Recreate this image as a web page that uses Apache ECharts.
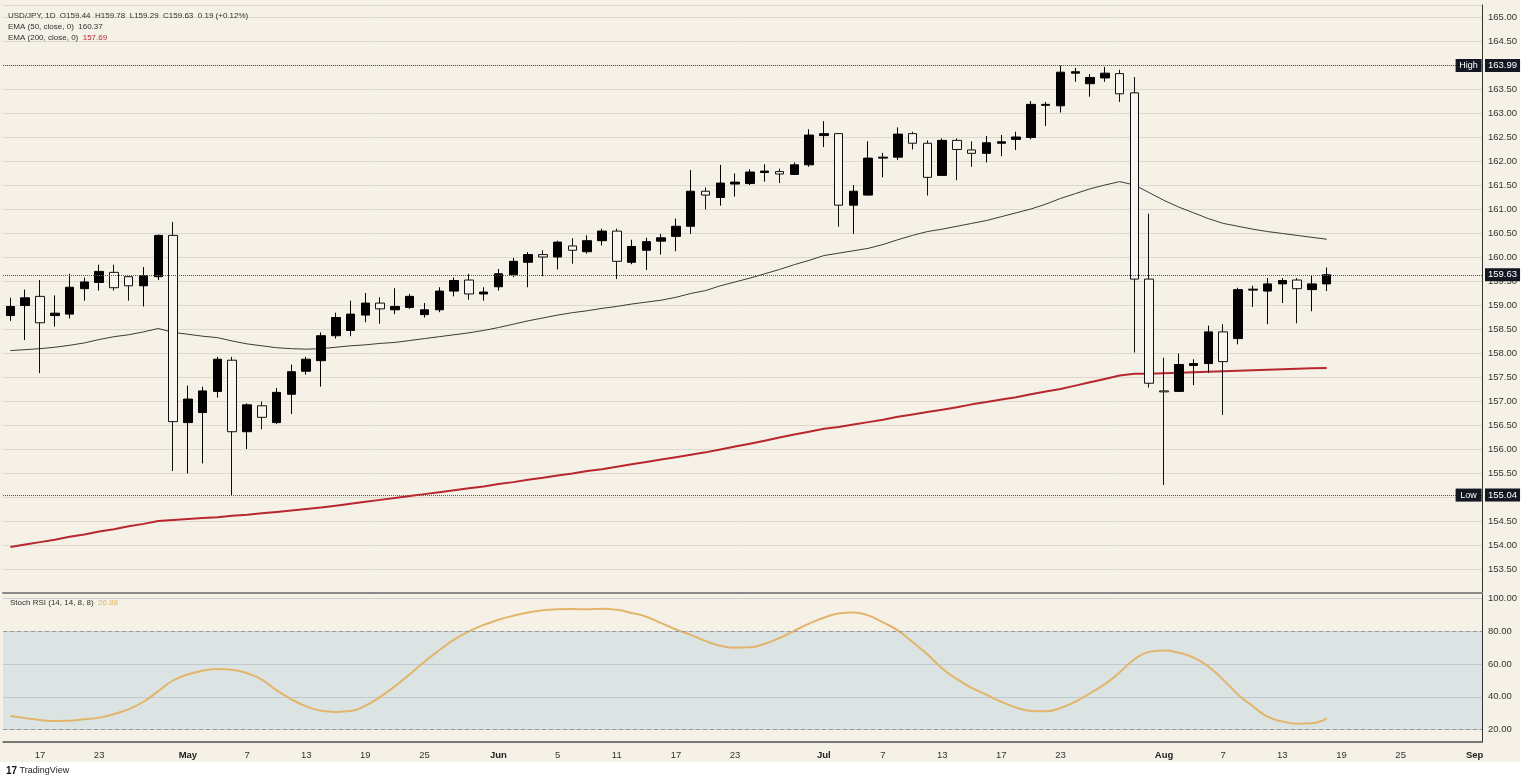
<!DOCTYPE html>
<html>
<head>
<meta charset="utf-8">
<title>USD/JPY 1D</title>
<script src="https://cdn.jsdelivr.net/npm/echarts@6/dist/echarts.min.js"></script>
<style>
  html, body { margin: 0; padding: 0; background: #ffffff; }
  #paper { position: absolute; left: 0; top: 0; width: 1520px; height: 762px; background: #F5F1E7; }
  #chart { position: absolute; left: 0; top: 0; width: 1528px; height: 784px; }
</style>
</head>
<body>
<div id="paper"></div>
<div id="chart"></div>
<script>
'use strict';

// daily candles (black = up, hollow = down)
var opens = [158.78, 158.99, 159.18, 158.78, 158.81, 159.34, 159.47, 159.68, 159.59, 159.40,
    159.59, 160.45, 156.55, 156.76, 157.20, 157.85, 156.36, 156.90, 156.55, 157.14,
    157.62, 157.84, 158.36, 158.47, 158.79, 159.04, 158.90, 158.95, 158.80, 158.90,
    159.29, 159.52, 159.23, 159.38, 159.63, 159.89, 160.05, 160.00, 160.23, 160.11,
    160.34, 160.54, 159.89, 160.14, 160.33, 160.43, 160.64, 161.37, 161.24, 161.52,
    161.53, 161.76, 161.78, 161.72, 161.92, 162.53, 162.57, 161.08, 161.29, 162.06,
    162.08, 162.57, 162.37, 161.70, 162.43, 162.23, 162.16, 162.37, 162.45, 162.49,
    163.16, 163.15, 163.83, 163.61, 163.73, 163.82, 163.42, 159.54, 157.21, 157.20,
    157.74, 157.78, 158.44, 158.30, 159.31, 159.29, 159.44, 159.52, 159.32, 159.44];
var closes = [158.97, 159.15, 158.63, 158.83, 159.37, 159.48, 159.70, 159.36, 159.40, 159.61,
    160.45, 156.57, 157.04, 157.21, 157.87, 156.36, 156.92, 156.66, 157.18, 157.61,
    157.87, 158.36, 158.74, 158.81, 159.04, 158.92, 158.97, 159.18, 158.90, 159.29,
    159.51, 159.23, 159.27, 159.65, 159.91, 160.05, 160.00, 160.31, 160.14, 160.34,
    160.54, 159.91, 160.22, 160.32, 160.40, 160.64, 161.37, 161.29, 161.54, 161.56,
    161.77, 161.79, 161.73, 161.92, 162.54, 162.57, 161.08, 161.37, 162.06, 162.08,
    162.56, 162.37, 161.66, 162.43, 162.24, 162.16, 162.38, 162.40, 162.50, 163.18,
    163.18, 163.85, 163.86, 163.74, 163.83, 163.40, 159.54, 157.37, 157.19, 157.76,
    157.78, 158.44, 157.82, 159.32, 159.33, 159.44, 159.51, 159.34, 159.44, 159.63];
var lows = [158.67, 158.27, 157.58, 158.55, 158.72, 159.09, 159.30, 159.30, 159.09, 158.97,
    159.52, 155.54, 155.49, 155.70, 157.07, 155.04, 156.00, 156.41, 156.52, 156.73,
    157.55, 157.30, 158.30, 158.35, 158.64, 158.61, 158.81, 158.92, 158.74, 158.85,
    159.18, 159.11, 159.09, 159.30, 159.58, 159.37, 159.60, 159.74, 159.86, 160.07,
    160.24, 159.54, 159.85, 159.73, 160.05, 160.12, 160.48, 160.99, 161.07, 161.26,
    161.50, 161.57, 161.54, 161.71, 161.88, 162.29, 160.63, 160.48, 161.28, 161.66,
    162.02, 162.24, 161.28, 161.69, 161.60, 161.88, 161.97, 162.10, 162.23, 162.45,
    162.73, 163.01, 163.65, 163.34, 163.65, 163.23, 158.01, 157.28, 155.25, 157.19,
    157.33, 157.59, 156.71, 158.18, 158.96, 158.60, 159.04, 158.62, 158.87, 159.29];
var highs = [159.15, 159.32, 159.52, 159.20, 159.65, 159.57, 159.84, 159.84, 159.60, 159.79,
    160.47, 160.73, 157.32, 157.30, 157.92, 157.92, 156.95, 156.99, 157.27, 157.76,
    157.92, 158.43, 158.84, 159.09, 159.25, 159.16, 159.35, 159.23, 159.04, 159.37,
    159.57, 159.65, 159.37, 159.75, 159.98, 160.10, 160.14, 160.34, 160.39, 160.45,
    160.59, 160.59, 160.36, 160.40, 160.48, 160.80, 161.81, 161.45, 161.92, 161.74,
    161.83, 161.93, 161.84, 161.97, 162.66, 162.83, 162.58, 161.50, 162.41, 162.17,
    162.70, 162.61, 162.43, 162.47, 162.47, 162.41, 162.52, 162.54, 162.61, 163.25,
    163.23, 163.99, 163.94, 163.81, 163.96, 163.90, 163.75, 160.90, 157.90, 157.99,
    157.87, 158.57, 158.60, 159.36, 159.40, 159.56, 159.56, 159.56, 159.61, 159.78];

// EMA (50) and EMA (200)
var ema50 = [158.05, 158.07, 158.09, 158.12, 158.16, 158.21, 158.28, 158.34, 158.38, 158.44,
    158.51, 158.43, 158.39, 158.35, 158.32, 158.25, 158.19, 158.15, 158.11, 158.09,
    158.08, 158.09, 158.12, 158.15, 158.17, 158.20, 158.22, 158.26, 158.30, 158.34,
    158.38, 158.42, 158.47, 158.53, 158.60, 158.67, 158.73, 158.79, 158.84, 158.88,
    158.93, 158.97, 159.02, 159.06, 159.10, 159.16, 159.24, 159.30, 159.40, 159.48,
    159.56, 159.65, 159.74, 159.84, 159.93, 160.03, 160.08, 160.13, 160.18, 160.26,
    160.36, 160.45, 160.53, 160.58, 160.64, 160.70, 160.76, 160.84, 160.92, 161.00,
    161.10, 161.22, 161.32, 161.42, 161.50, 161.57, 161.50, 161.34, 161.18, 161.04,
    160.92, 160.80, 160.70, 160.64, 160.58, 160.53, 160.49, 160.45, 160.41, 160.37];
var ema200 = [153.96, 154.01, 154.06, 154.11, 154.17, 154.22, 154.28, 154.33, 154.39, 154.44,
    154.50, 154.52, 154.54, 154.56, 154.58, 154.61, 154.63, 154.66, 154.69, 154.72,
    154.75, 154.78, 154.82, 154.86, 154.90, 154.94, 154.98, 155.02, 155.06, 155.10,
    155.14, 155.18, 155.22, 155.27, 155.31, 155.36, 155.40, 155.45, 155.49, 155.54,
    155.58, 155.63, 155.68, 155.73, 155.78, 155.83, 155.88, 155.93, 155.99, 156.05,
    156.11, 156.17, 156.24, 156.30, 156.36, 156.42, 156.46, 156.51, 156.56, 156.61,
    156.67, 156.72, 156.77, 156.82, 156.87, 156.93, 156.98, 157.03, 157.08, 157.14,
    157.20, 157.25, 157.32, 157.39, 157.46, 157.53, 157.57, 157.57, 157.58, 157.59,
    157.60, 157.61, 157.62, 157.63, 157.64, 157.65, 157.66, 157.67, 157.68, 157.69];

// Stoch RSI (14, 14, 8, 8)
var stochK = [28.3, 27.0, 25.9, 25.3, 25.4, 26.3, 27.3, 29.5, 32.5, 37.0,
    43.5, 50.0, 53.7, 56.0, 57.1, 56.6, 54.4, 50.6, 44.0, 38.5,
    34.2, 31.5, 30.8, 31.3, 34.6, 40.0, 46.5, 53.8, 61.5, 68.5,
    75.0, 80.0, 84.0, 87.1, 89.6, 91.6, 92.9, 93.5, 93.7, 93.5,
    93.9, 93.2, 91.3, 89.0, 85.1, 81.2, 77.9, 74.2, 71.3, 70.0,
    70.3, 72.5, 76.0, 80.4, 84.8, 88.4, 91.0, 91.6, 89.8, 85.5,
    80.6, 73.5, 66.0, 57.4, 50.8, 45.5, 41.3, 37.0, 33.5, 31.4,
    31.2, 33.2, 37.0, 42.2, 47.8, 55.0, 63.0, 67.5, 68.3, 67.0,
    64.0, 58.5, 50.5, 41.5, 34.3, 27.9, 25.0, 23.6, 23.9, 26.88];

// date ticks on the time axis (bar slot -> label)
var tickIdx = [2, 6, 12, 16, 20, 24, 28, 33, 37, 41, 45, 49, 55, 59, 63, 67, 71, 78, 82, 86, 90, 94, 99];
var tickText = ['17', '23', 'May', '7', '13', '19', '25', 'Jun', '5', '11', '17', '23',
    'Jul', '7', '13', '17', '23', 'Aug', '7', '13', '19', '25', 'Sep'];
var slotCount = 100;

var FONT = '"Liberation Sans", Arial, sans-serif';
var GRIDLINE = '#DCD8CE';
var RED = '#B8262F';
var RSI_COLOR = '#E2B46C';

var cats = [];
for (var i = 0; i < slotCount; i++) cats.push(String(i));

var candles = opens.map(function (o, k) {
    return [o, closes[k], lows[k], highs[k]];
});

var n = closes.length;
var hiValue = Math.max.apply(null, highs);
var loValue = Math.min.apply(null, lows);
var lastClose = closes[n - 1];
var change = lastClose - closes[n - 2];
var changePct = change / closes[n - 2] * 100;

var headLine = 'USD/JPY, 1D  O' + opens[n - 1].toFixed(2) + '  H' + highs[n - 1].toFixed(2) +
    '  L' + lows[n - 1].toFixed(2) + '  C' + lastClose.toFixed(2) + '  ' + change.toFixed(2) +
    ' (' + (change >= 0 ? '+' : '') + changePct.toFixed(2) + '%)';

var axisBox = {
    show: true,
    position: 'end',
    distance: 3,
    color: '#ffffff',
    backgroundColor: '#131722',
    padding: [2, 3, 1, 3],
    fontSize: 9.5,
    fontFamily: FONT,
    formatter: function (p) { return p.value.toFixed(2); }
};

var echartElem = document.getElementById('chart');
if (echartElem) {
    var chart = echarts.init(echartElem);
    chart.setOption({
        animation: false,
        backgroundColor: 'transparent',
        textStyle: { fontFamily: FONT },
        title: [{
            left: 8,
            top: 10,
            padding: 0,
            text: headLine + '\nEMA (50, close, 0)  ' + ema50[n - 1].toFixed(2) +
                '\nEMA (200, close, 0)  {r|' + ema200[n - 1].toFixed(2) + '}',
            textStyle: {
                fontSize: 8,
                fontWeight: 'normal',
                color: '#2f2f2f',
                lineHeight: 11,
                fontFamily: FONT,
                rich: { r: { color: RED, fontSize: 8, fontFamily: FONT } }
            }
        }, {
            left: 10,
            top: 599,
            padding: 0,
            text: 'Stoch RSI (14, 14, 8, 8)  {o|' + stochK[n - 1].toFixed(2) + '}',
            textStyle: {
                fontSize: 8,
                fontWeight: 'normal',
                color: '#2f2f2f',
                fontFamily: FONT,
                rich: { o: { color: RSI_COLOR, fontSize: 8, fontFamily: FONT } }
            }
        }, {
            left: 6,
            top: 766,
            padding: 0,
            text: '{l|17} TradingView',
            textStyle: {
                fontSize: 9,
                fontWeight: 'normal',
                color: '#222',
                fontFamily: FONT,
                rich: { l: { fontSize: 10, fontWeight: 'bold', color: '#111', fontFamily: FONT } }
            }
        }],
        grid: [
            { left: 3, right: 46, top: 5, height: 588 },
            { left: 3, right: 46, top: 593, height: 149 }
        ],
        xAxis: [{
            type: 'category',
            gridIndex: 0,
            data: cats,
            boundaryGap: true,
            axisLine: { show: true, lineStyle: { color: '#8a8a8a', width: 2 } },
            axisTick: { show: false },
            axisLabel: { show: false },
            splitLine: { show: false }
        }, {
            type: 'category',
            gridIndex: 1,
            data: cats,
            boundaryGap: true,
            axisLine: { show: true, lineStyle: { color: '#555', width: 1.5 } },
            axisTick: { show: false },
            splitLine: { show: false },
            axisLabel: {
                color: '#333',
                fontSize: 9.5,
                margin: 8,
                hideOverlap: false,
                interval: function (index) { return tickIdx.indexOf(index) >= 0; },
                formatter: function (val, index) {
                    var k = tickIdx.indexOf(index);
                    if (k < 0) return '';
                    var t = tickText[k];
                    return isNaN(Number(t)) ? '{m|' + t + '}' : t;
                },
                rich: { m: { fontWeight: 'bold', fontSize: 9.5, color: '#222', fontFamily: FONT } }
            }
        }],
        yAxis: [{
            type: 'value',
            gridIndex: 0,
            position: 'right',
            min: 153,
            max: 165.25,
            interval: 0.5,
            axisLine: { show: true, lineStyle: { color: '#333', width: 1 } },
            axisTick: { show: false },
            splitLine: { show: true, lineStyle: { color: GRIDLINE, width: 1 } },
            axisLabel: {
                color: '#333',
                fontSize: 9.5,
                margin: 6,
                showMaxLabel: false,
                showMinLabel: false,
                formatter: function (v) { return v.toFixed(2); }
            }
        }, {
            type: 'value',
            gridIndex: 1,
            position: 'right',
            min: 12.4,
            max: 103.5,
            splitNumber: 5,
            axisLine: { show: true, lineStyle: { color: '#333', width: 1 } },
            axisTick: { show: false },
            splitLine: { show: true, lineStyle: { color: '#CDD1CF', width: 1 } },
            axisLabel: {
                color: '#333',
                fontSize: 9.5,
                margin: 6,
                showMaxLabel: false,
                showMinLabel: false,
                formatter: function (v) { return v.toFixed(2); }
            }
        }],
        series: [{
            name: 'USD/JPY',
            type: 'candlestick',
            xAxisIndex: 0,
            yAxisIndex: 0,
            data: candles,
            barWidth: 9,
            z: 3,
            itemStyle: {
                color: '#000000',
                color0: '#F8F5EE',
                borderColor: '#000000',
                borderColor0: '#111111',
                borderWidth: 1
            },
            markLine: {
                silent: true,
                symbol: 'none',
                lineStyle: { type: 'dotted', color: '#555', width: 1 },
                label: axisBox,
                emphasis: { disabled: true },
                data: [{ yAxis: hiValue }, { yAxis: lastClose }, { yAxis: loValue }]
            },
            markPoint: {
                silent: true,
                symbol: 'rect',
                symbolSize: [26, 13],
                symbolOffset: [-6, 0],
                itemStyle: { color: '#131722' },
                label: {
                    show: true,
                    color: '#ffffff',
                    fontSize: 9,
                    fontFamily: FONT,
                    formatter: function (p) { return p.name; }
                },
                data: [
                    { name: 'High', coord: [slotCount - 1, hiValue] },
                    { name: 'Low', coord: [slotCount - 1, loValue] }
                ]
            }
        }, {
            name: 'EMA 50',
            type: 'line',
            xAxisIndex: 0,
            yAxisIndex: 0,
            data: ema50,
            showSymbol: false,
            z: 2,
            lineStyle: { color: '#3a3a3a', width: 1 }
        }, {
            name: 'EMA 200',
            type: 'line',
            xAxisIndex: 0,
            yAxisIndex: 0,
            data: ema200,
            showSymbol: false,
            z: 2,
            lineStyle: { color: RED, width: 2 }
        }, {
            name: 'Stoch RSI',
            type: 'line',
            xAxisIndex: 1,
            yAxisIndex: 1,
            data: stochK,
            smooth: true,
            showSymbol: false,
            lineStyle: { color: RSI_COLOR, width: 2 },
            markArea: {
                silent: true,
                itemStyle: { color: 'rgba(120, 175, 215, 0.2)' },
                data: [[{ yAxis: 20 }, { yAxis: 80 }]]
            },
            markLine: {
                silent: true,
                symbol: 'none',
                label: { show: false },
                lineStyle: { type: [4, 3], color: '#9a9a9a', width: 1 },
                data: [{ yAxis: 20 }, { yAxis: 80 }]
            }
        }]
    });
    window.addEventListener('resize', function () {
        setTimeout(function () {
            chart.resize();
        }, 500);
    });
}
</script>
</body>
</html>
